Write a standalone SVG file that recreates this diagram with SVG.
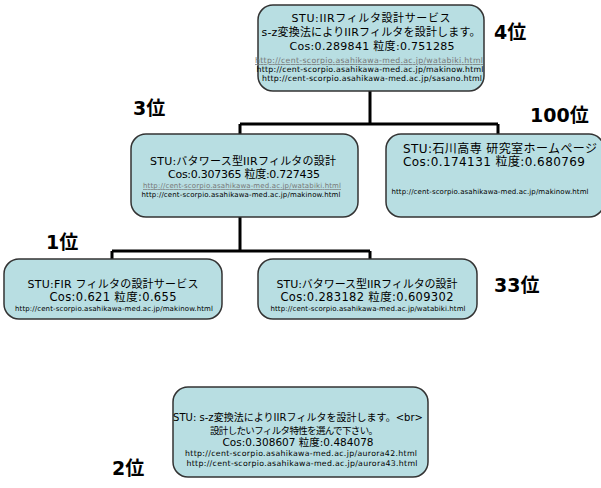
<svg xmlns="http://www.w3.org/2000/svg" width="601" height="488" viewBox="0 0 601 488">
<style>
.box{fill:#b8dee2;stroke:#333;stroke-width:1.5}
.t{font-family:"DejaVu Sans","Noto Sans CJK JP",sans-serif;font-size:11px;fill:#000;text-anchor:middle}
.u{font-family:"DejaVu Sans","Noto Sans CJK JP",sans-serif;font-size:7px;fill:#000;text-anchor:middle}
.big{font-size:7.8px}
.lk{fill:#777;text-decoration:underline}
.rank{font-family:"DejaVu Sans","Noto Sans CJK JP",sans-serif;font-size:19px;font-weight:bold;fill:#000}
.c{stroke:#000;stroke-width:3;fill:none}
</style>
<rect width="601" height="488" fill="#fff"/>
<g id="connectors">
<path class="c" d="M370 90V124M240 124H498M240 124V134M498 124V134"/>
<path class="c" d="M240 217V251M112 251H370M112 251V259M370 251V259"/>
</g>
<g id="n4">
<rect class="box" x="258" y="5" width="226" height="86" rx="15"/>
<text class="t" x="371" y="22" textLength="159" lengthAdjust="spacing">STU:IIRフィルタ設計サービス</text>
<text class="t" x="371" y="36" textLength="219" lengthAdjust="spacing">s-z変換法によりIIRフィルタを設計します。</text>
<text class="t" x="372" y="50" textLength="165" lengthAdjust="spacing">Cos:0.289841 粒度:0.751285</text>
<text class="u big lk" x="369" y="63" textLength="228" lengthAdjust="spacing">http://cent-scorpio.asahikawa-med.ac.jp/watabiki.html</text>
<text class="u big" x="370" y="72" textLength="227" lengthAdjust="spacing">http://cent-scorpio.asahikawa-med.ac.jp/makinow.html</text>
<text class="u big" x="372" y="81" textLength="220" lengthAdjust="spacing">http://cent-scorpio.asahikawa-med.ac.jp/sasano.html</text>
</g>
<g id="n3">
<rect class="box" x="131" y="134" width="227" height="83" rx="15"/>
<text class="t" x="243" y="165" textLength="186" lengthAdjust="spacing">STU:バタワース型IIRフィルタの設計</text>
<text class="t" x="244" y="178" textLength="152" lengthAdjust="spacing">Cos:0.307365 粒度:0.727435</text>
<text class="u lk" x="242" y="188" textLength="198" lengthAdjust="spacing">http://cent-scorpio.asahikawa-med.ac.jp/watabiki.html</text>
<text class="u" x="241" y="197" textLength="199" lengthAdjust="spacing">http://cent-scorpio.asahikawa-med.ac.jp/makinow.html</text>
</g>
<g id="n100">
<rect class="box" x="386" y="134" width="218" height="83" rx="15"/>
<text class="t" x="500" y="153" style="font-size:12px" textLength="194" lengthAdjust="spacing">STU:石川高専 研究室ホームページ</text>
<text class="t" x="494" y="166" style="font-size:12px" textLength="182" lengthAdjust="spacing">Cos:0.174131 粒度:0.680769</text>
<text class="u" x="490" y="194" textLength="197" lengthAdjust="spacing">http://cent-scorpio.asahikawa-med.ac.jp/makinow.html</text>
</g>
<g id="n1">
<rect class="box" x="4" y="259" width="218" height="60" rx="15"/>
<text class="t" x="113" y="288" textLength="171" lengthAdjust="spacing">STU:FIR フィルタの設計サービス</text>
<text class="t" x="113" y="301" style="font-size:11.5px" textLength="127" lengthAdjust="spacing">Cos:0.621 粒度:0.655</text>
<text class="u" x="114" y="311" textLength="198" lengthAdjust="spacing">http://cent-scorpio.asahikawa-med.ac.jp/makinow.html</text>
</g>
<g id="n33">
<rect class="box" x="258" y="259" width="219" height="60" rx="15"/>
<text class="t" x="367" y="288" textLength="181" lengthAdjust="spacing">STU:バタワース型IIRフィルタの設計</text>
<text class="t" x="367" y="301" style="font-size:11.5px" textLength="173" lengthAdjust="spacing">Cos:0.283182 粒度:0.609302</text>
<text class="u" x="368" y="311" textLength="195" lengthAdjust="spacing">http://cent-scorpio.asahikawa-med.ac.jp/watabiki.html</text>
</g>
<g id="n2">
<rect class="box" x="173" y="387" width="255" height="90" rx="15"/>
<text class="t" x="298" y="421" style="font-size:10px" textLength="250" lengthAdjust="spacing">STU: s-z変換法によりIIRフィルタを設計します。&lt;br&gt;</text>
<text class="t" x="294" y="434" style="font-size:9.5px" textLength="168" lengthAdjust="spacing">設計したいフィルタ特性を選んで下さい。</text>
<text class="t" x="298" y="446" style="font-size:10.5px" textLength="151" lengthAdjust="spacing">Cos:0.308607 粒度:0.484078</text>
<text class="u big" x="301" y="456" textLength="232" lengthAdjust="spacing">http://cent-scorpio.asahikawa-med.ac.jp/aurora42.html</text>
<text class="u big" x="302" y="466" textLength="231" lengthAdjust="spacing">http://cent-scorpio.asahikawa-med.ac.jp/aurora43.html</text>
</g>
<g id="ranks">
<text class="rank" x="494" y="39">4位</text>
<text class="rank" x="133" y="115">3位</text>
<text class="rank" x="530" y="122">100位</text>
<text class="rank" x="46" y="249">1位</text>
<text class="rank" x="494" y="292">33位</text>
<text class="rank" x="112" y="475">2位</text>
</g>
</svg>
